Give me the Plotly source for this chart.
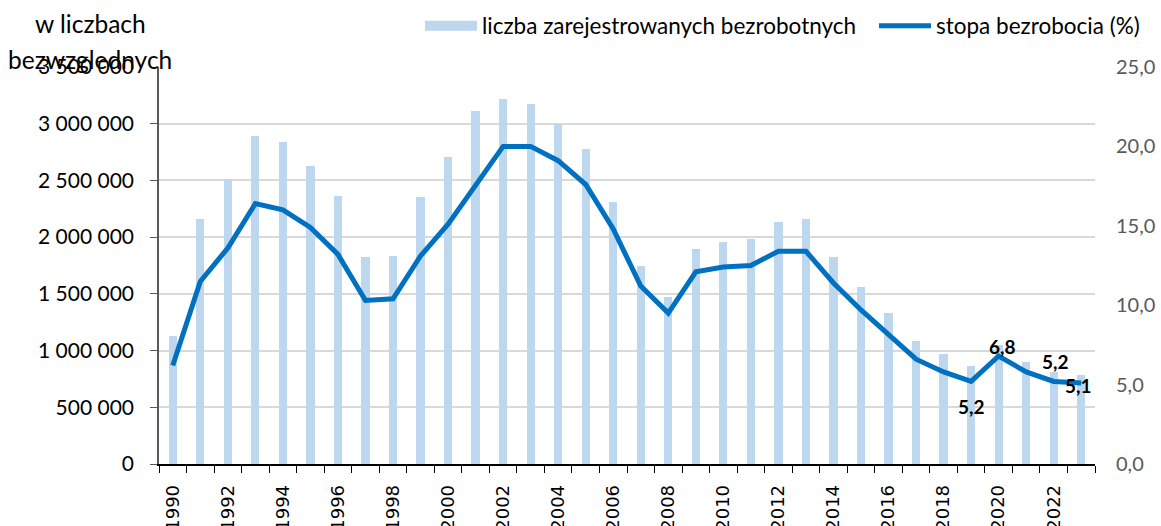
import plotly.graph_objects as go

years = list(range(1990, 2024))
registered = [1126100, 2155600, 2509300, 2889600, 2838000, 2628800, 2359500, 1826400,
              1831400, 2349800, 2702600, 3115100, 3217000, 3175700, 2999600, 2773000,
              2309400, 1746600, 1473800, 1892700, 1954700, 1982700, 2136800, 2157900,
              1825200, 1563300, 1335200, 1081700, 968500, 866400, 1046400, 895200,
              812300, 784500]
rate = [6.2, 11.5, 13.6, 16.4, 16.0, 14.9, 13.2, 10.3, 10.4, 13.1, 15.1, 17.5, 20.0,
        20.0, 19.1, 17.6, 14.8, 11.2, 9.5, 12.1, 12.4, 12.5, 13.4, 13.4, 11.4, 9.7,
        8.2, 6.6, 5.8, 5.2, 6.8, 5.8, 5.2, 5.1]
# years whose rate value is printed, with the label's pixel offset from the point
labelled_years = {2019: (0, -25), 2020: (4, 10), 2022: (2, 20), 2023: (-3, -2)}

left_ticks = list(range(0, 3500001, 500000))
left_ticktext = [f"{v:,}".replace(",", " ") for v in left_ticks]
right_ticks = [0, 5, 10, 15, 20, 25]
right_ticktext = [f"{v:.1f}".replace(".", ",") for v in right_ticks]
x_labels = years[::2]

FONT = "Lato"
BAR_COLOR = "#BDD7EE"
LINE_COLOR = "#0070C0"

W, H = 1161, 526
L, R, T, B = 159, 1095, 67, 464

fig = go.Figure()
fig.add_trace(go.Bar(
    x=years, y=registered, name="liczba zarejestrowanych bezrobotnych",
    marker=dict(color=BAR_COLOR, line=dict(width=0)), width=0.3, yaxis="y",
    showlegend=False,
))
# legend entry for bars (wide swatch like the original)
fig.add_trace(go.Scatter(
    x=[None], y=[None], mode="lines", name="liczba zarejestrowanych bezrobotnych",
    line=dict(color=BAR_COLOR, width=14), showlegend=True, hoverinfo="skip",
    legend="legend",
))
fig.add_trace(go.Scatter(
    x=years, y=rate, name="stopa bezrobocia (%)", yaxis="y2",
    mode="lines", line=dict(color=LINE_COLOR, width=5), legend="legend2",
))

for yr, (dx, dy) in labelled_years.items():
    val = rate[years.index(yr)]
    fig.add_annotation(
        x=yr, y=val, xref="x", yref="y2", text=f"{val:.1f}".replace(".", ","),
        showarrow=False, xshift=dx, yshift=dy, xanchor="center", yanchor="middle",
        font=dict(family=FONT, size=19, color="#000000", weight="bold"),
    )

legend_common = dict(
    orientation="h", xref="container", yref="container", y=1 - 26 / H,
    xanchor="left", yanchor="middle", bgcolor="rgba(0,0,0,0)", itemwidth=52,
    font=dict(family=FONT, size=22.5, color="#000000"),
)

fig.update_layout(
    width=W, height=H,
    margin=dict(l=L, r=W - R, t=T, b=H - B, autoexpand=False),
    plot_bgcolor="white", paper_bgcolor="white",
    font=dict(family=FONT, color="#000000"),
    bargap=0,
    xaxis=dict(
        range=[1989.5, 2023.5], tickmode="array", tickvals=x_labels,
        ticktext=[str(y) for y in x_labels], tickangle=-90, ticks="",
        tickfont=dict(family="DejaVu Sans", size=18, color="#000000"),
        ticklabelstandoff=12, automargin=False,
        showline=True, linecolor="#000000", linewidth=1.5, showgrid=False,
        zeroline=False,
        minor=dict(tickvals=[y - 0.5 for y in years] + [2023.5], ticks="outside",
                   ticklen=7, tickwidth=1.2, tickcolor="#000000", showgrid=False),
    ),
    yaxis=dict(
        range=[0, 3500000], tickmode="array", tickvals=left_ticks, ticktext=left_ticktext,
        tickfont=dict(family=FONT, size=21, color="#000000"),
        ticklabelstandoff=12, automargin=False,
        showgrid=True, gridcolor="#D9D9D9", gridwidth=2,
        showline=True, linecolor="#595959", linewidth=1.5,
        ticks="outside", ticklen=7, tickcolor="#595959", tickwidth=1.2,
        zeroline=False,
    ),
    yaxis2=dict(
        range=[0, 25], overlaying="y", side="right", tickmode="array",
        tickvals=right_ticks, ticktext=right_ticktext,
        tickfont=dict(family=FONT, size=20, color="#595959"),
        showgrid=False, zeroline=False, showline=False, ticks="",
        ticklabelstandoff=20, automargin=False,
    ),
    legend=dict(x=420 / W, **legend_common),
    legend2=dict(x=874 / W, **legend_common),
    showlegend=True,
)

fig.add_annotation(text="w liczbach", xref="paper", yref="paper",
                   x=(90 - L) / (R - L), y=(B - 24) / (B - T), xanchor="center",
                   yanchor="middle", showarrow=False,
                   font=dict(family=FONT, size=24.5, color="#000000"))
fig.add_annotation(text="bezwzglednych", xref="paper", yref="paper",
                   x=(90 - L) / (R - L), y=(B - 59) / (B - T), xanchor="center",
                   yanchor="middle", showarrow=False,
                   font=dict(family=FONT, size=24.5, color="#000000"))

fig.write_html(
    "out.html",
    config={"displayModeBar": False},
    post_script="document.body.style.margin='0';document.body.style.overflow='hidden';",
)
